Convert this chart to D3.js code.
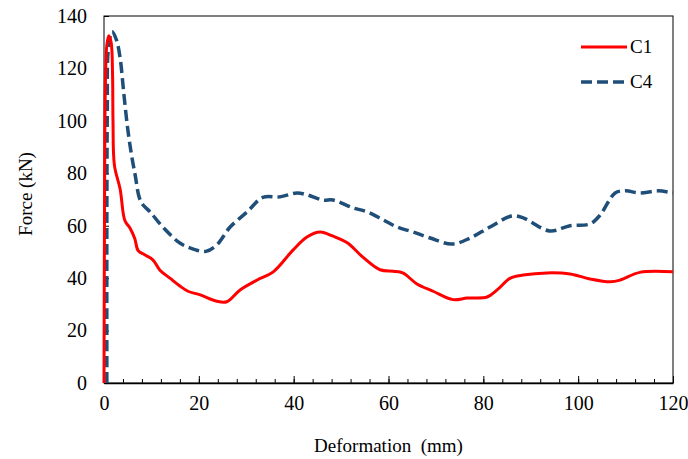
<!DOCTYPE html>
<html>
<head>
<meta charset="utf-8">
<script src="https://cdn.jsdelivr.net/npm/d3@7"></script>
<style>
  body { margin: 0; background: #fff; }
</style>
</head>
<body>
<div id="chart"></div>
<script>
// data: [deformation (mm), force (kN)]
var c1 = [[0,0],[0.1,60],[0.3,115],[0.6,129],[1,132.5],[1.5,130],[1.8,118],[1.9,100],[2.2,83],
  [3.4,74],[4.4,62],[5.5,59],[6.5,55],[7.2,50.5],[8.5,49],[10.3,47],[11.8,43],[13.9,40],
  [16,37],[17.7,35],[20.3,33.6],[23.8,31.2],[25.9,31],[28.7,35.5],[32.3,39.3],[35.7,42.4],
  [39.9,50.8],[42.8,55.7],[45.6,57.6],[48.3,56],[51.3,53.5],[54.6,48],[58.2,43.2],[61,42.6],
  [63,42],[66,37.8],[69.4,35],[73.6,31.8],[76.6,32.4],[80.8,32.8],[82.9,35.5],[85.7,40],
  [88.4,41.2],[93.5,42],[98.3,41.6],[102.5,39.7],[106.8,38.6],[108.9,39.3],[113,42.2],[120,42.4]];

var c4 = [[0.6,0],[0.6,60],[0.7,105],[0.9,127],[1.7,134],[2.6,131],[3.4,124],[4.2,110],[5,97],
  [5.8,87],[6.6,79],[7.4,71],[8.2,68],[9.7,65.3],[12.4,59.5],[16,53.4],[19,51],[21.5,50.2],
  [23.8,52.7],[26.6,59.5],[30.2,65.3],[33.5,70.8],[37.1,71],[40.7,72.5],[42.8,71.8],
  [46.2,69.8],[48.3,69.8],[52.5,66.8],[55.5,65.3],[58.9,62.2],[61.8,59.5],[65.2,57.6],
  [68.8,55.3],[73.4,53],[77.2,55.3],[81.4,59.5],[86,63.7],[88.4,63],[94,58],[98.3,60],
  [102.5,60.7],[104.6,64],[107.8,72.5],[110,73.3],[113,72.5],[116.9,73.3],[120,72.5]];

var seriesNames = ["C1", "C4"];
var xTicks = [0, 20, 40, 60, 80, 100, 120];
var yTicks = [0, 20, 40, 60, 80, 100, 120, 140];

var FONT = "'Liberation Serif', 'Times New Roman', 'DejaVu Serif', serif";

// set the dimensions and margins of the graph
var margin = {top: 16, right: 15, bottom: 76, left: 104},
    width = 688 - margin.left - margin.right,
    height = 459 - margin.top - margin.bottom;

var x = d3.scaleLinear().domain([0, 120]).range([0, width]);
var y = d3.scaleLinear().domain([0, 140]).range([height, 0]);

var base = d3.select("#chart").append("svg")
    .attr("width", 688)
    .attr("height", 459)
    .style("font-family", FONT);

var svg = base.append("g")
    .attr("transform", "translate(" + margin.left + "," + margin.top + ")");

// frame
svg.append("rect")
    .attr("width", width)
    .attr("height", height)
    .attr("fill", "none")
    .attr("stroke", "#000")
    .attr("stroke-width", 1);

// minor x ticks every 4 mm, pointing inwards
svg.append("g")
    .attr("transform", "translate(0," + height + ")")
    .call(d3.axisTop(x).tickValues(d3.range(0, 121, 4)).tickSize(4).tickFormat(""))
    .call(function(g) { g.select(".domain").remove(); });

// major x ticks + labels
var xAxis = svg.append("g")
    .attr("transform", "translate(0," + height + ")")
    .call(d3.axisBottom(x).tickValues(xTicks).tickSize(0).tickPadding(13));
xAxis.attr("font-family", null);
xAxis.select(".domain").attr("stroke-width", 1.5);
xAxis.selectAll(".tick").append("line")
    .attr("y2", -7).attr("stroke", "#000");
xAxis.selectAll("text")
    .style("font-family", FONT)
    .style("font-size", "20px");

// y axis
var yAxis = svg.append("g")
    .call(d3.axisLeft(y).tickValues(yTicks).tickSize(0).tickPadding(17));
yAxis.attr("font-family", null);
yAxis.select(".domain").remove();
yAxis.selectAll(".tick").append("line")
    .attr("x2", 5).attr("stroke", "#000");
yAxis.selectAll("text")
    .style("font-family", FONT)
    .style("font-size", "20px");

// lines
var line = d3.line()
    .x(function(d) { return x(d[0]); })
    .y(function(d) { return y(d[1]); })
    .curve(d3.curveCatmullRom.alpha(0.5));

svg.append("path")
    .datum(c4)
    .attr("fill", "none")
    .attr("stroke", "#1F4E79")
    .attr("stroke-width", 3.5)
    .attr("stroke-dasharray", "11,5")
    .attr("d", line);

svg.append("path")
    .datum(c1)
    .attr("fill", "none")
    .attr("stroke", "#FF0000")
    .attr("stroke-width", 3)
    .attr("d", line);

// axis titles
base.append("text")
    .attr("x", margin.left + width / 2)
    .attr("y", 452)
    .attr("text-anchor", "middle")
    .style("font-family", FONT)
    .style("font-size", "19px")
    .text("Deformation\u00a0\u00a0(mm)");

base.append("text")
    .attr("transform", "translate(32,194) rotate(-90)")
    .attr("text-anchor", "middle")
    .style("font-family", FONT)
    .style("font-size", "19px")
    .text("Force (kN)");

// legend
var legend = base.append("g");
var ly = [47, 82];
var styles = [{c: "#FF0000", w: 3, dash: null}, {c: "#1F4E79", w: 3.5, dash: "11,5"}];
seriesNames.forEach(function(name, i) {
  legend.append("line")
      .attr("x1", 581).attr("x2", 627)
      .attr("y1", ly[i]).attr("y2", ly[i])
      .attr("stroke", styles[i].c)
      .attr("stroke-width", styles[i].w)
      .attr("stroke-dasharray", styles[i].dash);
  legend.append("text")
      .attr("x", 630)
      .attr("y", ly[i] + 6)
      .style("font-family", FONT)
      .style("font-size", "19px")
      .text(name);
});
</script>
</body>
</html>
